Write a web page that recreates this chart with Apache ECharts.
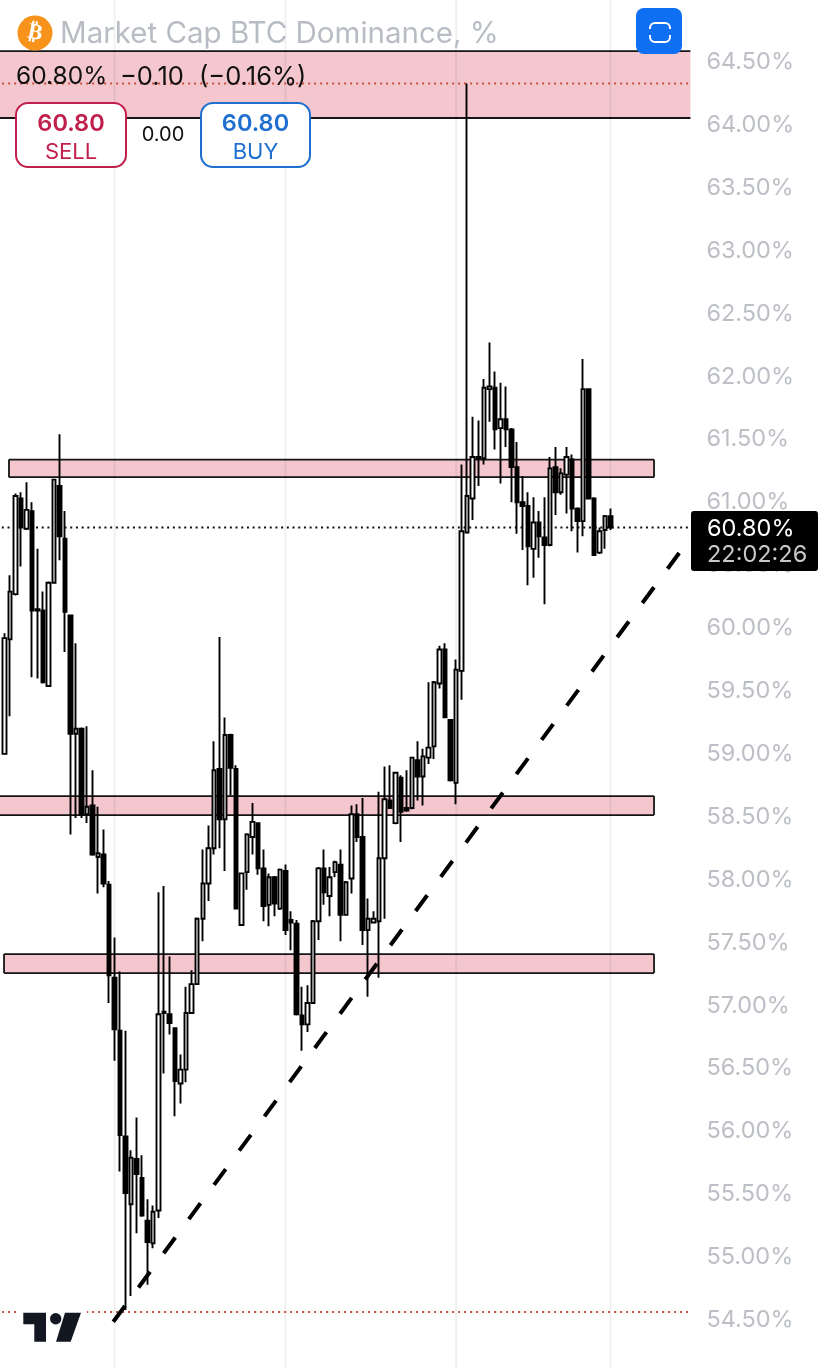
<!DOCTYPE html>
<html><head><meta charset="utf-8">
<style>html,body{margin:0;padding:0;background:#fff}#c{width:828px;height:1368px}</style>
<script src="https://cdn.jsdelivr.net/npm/echarts@6/dist/echarts.min.js"></script>
</head><body><div id="c"></div>
<script>
const opens=[59.00,59.91,60.27,61.03,60.79,60.93,60.14,60.14,59.54,60.36,61.13,60.71,60.10,59.16,59.20,58.52,58.59,58.18,58.20,57.96,57.22,56.80,55.96,55.42,55.78,55.63,55.29,55.11,55.37,56.94,56.93,56.82,56.38,56.49,56.94,57.17,57.69,57.97,58.25,58.88,58.48,59.15,58.88,57.64,58.06,58.34,58.45,58.09,57.80,58.02,57.77,58.07,57.68,57.65,56.92,56.85,57.02,57.67,58.09,57.87,58.06,58.12,57.72,58.01,58.52,58.34,57.60,57.66,57.67,58.17,58.63,58.45,58.81,58.57,58.57,58.95,58.82,58.97,59.06,59.56,59.83,59.27,58.77,59.66,60.76,61.03,61.36,61.35,61.90,61.91,61.59,61.66,61.58,61.28,61.00,60.97,60.63,60.84,60.72,60.66,61.28,61.08,61.22,61.34,60.95,60.85,61.90,61.03,60.60,60.78,60.89];
const closes=[59.92,60.29,61.05,60.80,60.94,60.14,60.15,59.57,60.36,61.18,60.73,60.13,59.16,59.20,58.52,58.58,58.20,58.21,57.97,57.24,56.81,55.97,55.51,55.79,55.66,55.33,55.12,55.36,56.93,56.95,56.86,56.40,56.49,56.94,57.17,57.69,57.97,58.25,58.87,58.48,59.15,58.89,57.77,58.05,58.36,58.46,58.09,57.79,58.02,57.81,58.08,57.60,57.66,56.93,56.85,57.02,57.67,58.09,57.90,58.02,58.14,57.72,57.98,58.52,58.34,57.60,57.69,57.69,58.17,58.64,58.57,58.85,58.54,58.55,58.97,58.82,58.98,59.05,59.57,59.83,59.29,58.79,59.67,60.77,61.05,61.36,61.35,61.91,61.92,61.58,61.66,61.58,61.28,61.00,60.97,60.65,60.84,60.73,60.66,61.27,61.08,61.23,61.36,60.95,60.85,61.90,61.03,60.58,60.77,60.89,60.80];
const lows=[59.00,59.30,60.26,60.49,60.78,59.61,59.60,59.56,59.54,60.36,60.54,59.81,58.36,58.49,58.49,58.45,58.19,57.89,57.94,57.02,56.56,55.68,54.58,54.69,55.19,55.32,54.78,55.07,55.31,56.46,56.77,56.12,56.22,56.39,56.94,57.17,57.51,57.83,58.20,58.25,58.07,58.67,57.77,57.64,57.92,58.20,58.04,57.67,57.63,57.71,57.76,57.56,57.44,56.92,56.64,56.79,57.02,57.52,57.80,57.71,58.02,57.51,57.72,57.89,58.30,57.48,57.07,57.66,57.22,57.69,58.57,58.44,58.30,58.54,58.56,58.63,58.59,58.92,58.96,59.52,59.29,58.78,58.60,59.43,60.76,60.86,61.13,61.30,61.64,61.42,61.15,61.44,61.00,60.75,60.62,60.34,60.40,60.56,60.19,60.65,60.90,61.06,60.91,60.77,60.60,60.73,61.03,60.58,60.59,60.63,60.78];
const highs=[59.96,60.42,61.07,61.08,61.16,61.00,60.63,60.29,60.37,61.18,61.54,60.93,60.10,59.88,59.21,59.22,58.87,58.58,58.40,57.99,57.54,57.27,56.80,55.85,56.11,55.81,55.46,55.41,57.90,57.95,57.39,56.82,56.61,57.15,57.28,57.70,58.24,58.43,59.10,59.93,59.29,59.16,58.91,58.05,58.37,58.61,58.45,58.24,58.05,58.03,58.09,58.12,57.75,57.68,57.15,57.16,57.68,58.10,58.24,58.10,58.15,58.24,57.99,58.59,58.60,58.65,57.85,57.75,58.70,58.90,58.91,58.85,58.83,58.87,58.97,59.10,59.04,59.57,59.58,59.86,59.88,59.27,59.75,61.30,64.33,61.68,61.65,61.98,62.27,62.04,61.95,61.92,61.59,61.48,61.21,61.08,61.04,60.93,61.04,61.36,61.44,61.27,61.44,61.38,60.96,62.14,61.90,61.04,60.80,60.90,60.95];

// annotations, x in candle-slot units, y in percent
const zoneLeft=[-0.5,1.83,-0.5,0.93];
const zoneRight=[125.5,118.9,118.9,118.9];
const zoneTop=[64.587,61.34,58.665,57.409];
const zoneBottom=[64.055,61.20,58.514,57.258];
const monthSlots=[21,52,83,111];
const trendLine=[[20.76,54.486],[123.6,60.605]];
const upperDotted=64.33, lowerDotted=54.563, lastPrice=60.80;
const slotMin=-0.5, slotMax=125.5, slotCount=126;
const tickMin=54, tickMax=65, tickStep=0.5;

const categories=Array.from({length:slotCount},(_,i)=>String(i));
const candles=categories.map((_,i)=>{
  const k=i-1;
  return (k>=0&&k<opens.length)?[opens[k],closes[k],lows[k],highs[k]]:['-','-','-','-'];
});
const hline=(y)=>[[slotMin,y],[slotMax,y]];
const FONT='Inter, Roboto, sans-serif';
const chart=echarts.init(document.getElementById('c'),null,{renderer:'canvas'});

function pill(x,y,w,h,col,val,lab){
  return [
    {type:'rect',z:100,shape:{x,y,width:w,height:h,r:12},style:{fill:'#fff',stroke:col,lineWidth:2}},
    {type:'text',z:101,x:x+w/2,y:y+21,style:{text:val,fill:col,font:'600 23.5px '+FONT,textAlign:'center',textVerticalAlign:'middle'}},
    {type:'text',z:101,x:x+w/2,y:y+49,style:{text:lab,fill:col,font:'22px '+FONT,textAlign:'center',textVerticalAlign:'middle'}}
  ];
}
const option={
  animation:false,backgroundColor:'#fff',
  grid:{left:-3.865,top:-0.9,width:694.26,height:1383.8,containLabel:false,outerBoundsMode:'none'},
  xAxis:[
    {type:'category',data:categories,show:false,boundaryGap:true},
    {type:'value',min:slotMin,max:slotMax,show:false}
  ],
  yAxis:{type:'value',position:'right',min:tickMin,max:tickMax,interval:tickStep,scale:true,
    axisLine:{show:false},axisTick:{show:false},splitLine:{show:false},
    axisLabel:{color:'#bcbfc5',fontSize:23.5,fontFamily:FONT,margin:16,padding:[2,0,0,0],
      formatter:v=>(v<54.4||v>64.6)?'':v.toFixed(2)+'%'}},
  series:[
    {type:'custom',xAxisIndex:1,yAxisIndex:0,z:1,silent:true,clip:true,
      data:zoneLeft.map((l,i)=>[l,zoneRight[i],zoneTop[i],zoneBottom[i]]),
      encode:{x:[0,1],y:[2,3]},
      renderItem(p,api){
        const a=api.coord([api.value(0),api.value(2)]),b=api.coord([api.value(1),api.value(3)]);
        const cs=p.coordSys,ls={stroke:'#151515',lineWidth:1.8,fill:null};
        const kids=[
          {type:'rect',shape:{x:a[0],y:a[1],width:b[0]-a[0],height:b[1]-a[1]},style:{fill:'#f3c7cd'}},
          {type:'line',shape:{x1:a[0],y1:a[1],x2:b[0],y2:a[1]},style:ls},
          {type:'line',shape:{x1:a[0],y1:b[1],x2:b[0],y2:b[1]},style:ls}];
        if(a[0]>cs.x+1)kids.push({type:'line',shape:{x1:a[0],y1:a[1],x2:a[0],y2:b[1]},style:ls});
        if(b[0]<cs.x+cs.width-1)kids.push({type:'line',shape:{x1:b[0],y1:a[1],x2:b[0],y2:b[1]},style:ls});
        return {type:'group',children:kids};
      }},
    {type:'custom',xAxisIndex:1,yAxisIndex:0,z:2,silent:true,clip:true,
      data:monthSlots.map(s=>[s]),encode:{x:0},
      renderItem(p,api){
        const x=api.coord([api.value(0),tickMin])[0],cs=p.coordSys;
        return {type:'line',shape:{x1:x,y1:cs.y,x2:x,y2:cs.y+cs.height},style:{stroke:'rgba(0,0,0,0.06)',lineWidth:2}};
      }},
    {type:'line',xAxisIndex:1,z:2,silent:true,symbol:'none',data:hline(upperDotted),lineStyle:{color:'#c8503c',width:2,type:[2,4]}},
    {type:'line',xAxisIndex:1,z:2,silent:true,symbol:'none',data:hline(lowerDotted),lineStyle:{color:'#c8503c',width:2,type:[2,4]}},
    {type:'line',xAxisIndex:1,z:2,silent:true,symbol:'none',data:hline(lastPrice),lineStyle:{color:'#111',width:2,type:[2,3.7]}},
    {type:'candlestick',xAxisIndex:0,yAxisIndex:0,z:3,silent:true,barWidth:4,data:candles,
      itemStyle:{color:'#ffffff',color0:'#000000',borderColor:'#000',borderColor0:'#000',borderColorDoji:'#000',borderWidth:1.9}},
    {type:'line',xAxisIndex:1,z:4,silent:true,symbol:'none',data:trendLine,lineStyle:{color:'#000',width:4,cap:'butt',type:[19.6,22.9]}}
  ],
  graphic:[
    // logo
    {type:'rect',z:90,shape:{x:20,y:1303,width:67,height:44},style:{fill:'#fff'}},
    {type:'polygon',z:91,shape:{points:[[23.3,1312.7],[46,1312.7],[46,1341.7],[34.3,1341.7],[34.3,1324.3],[23.3,1324.3]]},style:{fill:'#131722'}},
    {type:'circle',z:91,shape:{cx:55.7,cy:1318.7,r:5.7},style:{fill:'#131722'}},
    {type:'polygon',z:91,shape:{points:[[65,1312.7],[81,1312.7],[70.7,1341.7],[56,1341.7]]},style:{fill:'#131722'}},
    // header
    {type:'circle',z:100,shape:{cx:35,cy:33,r:17.5},style:{fill:'#f7931a'}},
    {type:'text',z:101,x:35,y:33,rotation:-0.2,style:{text:'₿',fill:'#fff',font:'bold 22px "DejaVu Sans"',textAlign:'center',textVerticalAlign:'middle'}},
    {type:'text',z:100,x:60,y:34.5,style:{text:'Market Cap BTC Dominance, %',fill:'#b8bcc4',font:'29.5px '+FONT,textVerticalAlign:'middle'}},
    {type:'text',z:100,x:16,y:77,style:{text:'60.80%',fill:'#111',font:'24.5px '+FONT,textVerticalAlign:'middle'}},
    {type:'text',z:100,x:120,y:77,style:{text:'−0.10',fill:'#111',font:'25.5px '+FONT,textVerticalAlign:'middle'}},
    {type:'text',z:100,x:199,y:77,style:{text:'(−0.16%)',fill:'#111',font:'25.5px '+FONT,textVerticalAlign:'middle'}},
    ...pill(16,103,110,64,'#c2204c','60.80','SELL'),
    ...pill(201,103,109,64,'#1e6fd0','60.80','BUY'),
    {type:'text',z:100,x:163,y:135,style:{text:'0.00',fill:'#111',font:'20px '+FONT,textAlign:'center',textVerticalAlign:'middle'}},
    // fullscreen button
    {type:'rect',z:100,shape:{x:636,y:8,width:46,height:46,r:8},style:{fill:'#0f6ff2'}},
    {type:'rect',z:101,shape:{x:650,y:23,width:20,height:19,r:5},style:{fill:null,stroke:'#fff',lineWidth:2}},
    {type:'rect',z:102,shape:{x:647,y:29,width:6,height:6},style:{fill:'#0f6ff2'}},
    {type:'rect',z:102,shape:{x:667,y:29,width:6,height:6},style:{fill:'#0f6ff2'}},
    // price tag
    {type:'rect',z:100,shape:{x:691,y:511,width:127,height:60,r:3},style:{fill:'#000'}},
    {type:'text',z:101,x:707,y:529,style:{text:'60.80%',fill:'#fff',font:'23.5px '+FONT,textVerticalAlign:'middle'}},
    {type:'text',z:101,x:707,y:555,style:{text:'22:02:26',fill:'#c8c8c8',font:'23.5px '+FONT,textVerticalAlign:'middle'}}
  ]
};
chart.setOption(option);
</script></body></html>
